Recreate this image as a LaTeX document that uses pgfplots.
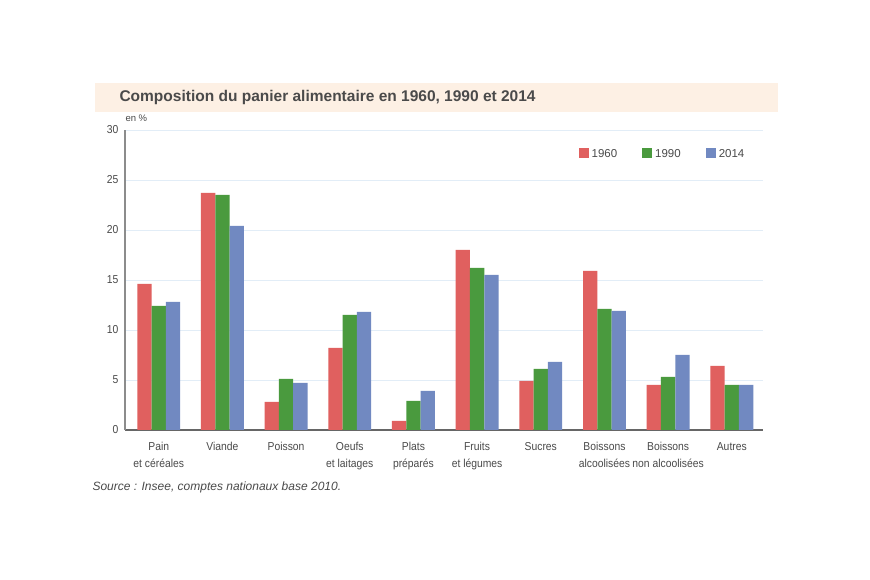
\documentclass[border=0pt]{standalone}
\usepackage{fontspec}
\setmainfont{Liberation Sans}
\newfontfamily\narrowfont[FakeStretch=0.9]{Liberation Sans}
\usepackage{pgfplots}
\pgfplotsset{compat=1.18}
\definecolor{c60}{HTML}{E0605F}
\definecolor{c90}{HTML}{4A9A3E}
\definecolor{c14}{HTML}{7189C1}
\definecolor{gridc}{HTML}{E2EDF7}
\definecolor{band}{HTML}{FDF0E4}
\definecolor{txt}{HTML}{4A4A4A}
\begin{document}
\begin{tikzpicture}[x=1pt,y=1pt]
\path[fill=white] (0,0) rectangle (870,580);
% bandeau du titre
\fill[band] (95,468) rectangle (778,497);
\node[anchor=west, text=txt, font=\fontsize{15.5}{18}\selectfont\bfseries] at (116,482) {Composition du panier alimentaire en 1960, 1990 et 2014};
\node[anchor=west, text=txt, font=\fontsize{9.5}{11}\selectfont] at (122,462) {en \%};
\node[anchor=west, text=txt, font=\fontsize{12}{14}\selectfont\itshape] at (89,93) {Source : Insee, comptes nationaux base 2010.};
\begin{axis}[
  at={(125pt,150pt)}, anchor=south west,
  scale only axis, width=638pt, height=300pt,
  ybar=0pt, bar width=14.3pt,
  xmin=-0.53, xmax=9.49,
  ymin=0, ymax=30,
  xtick=data,
  xticklabels={{Pain\\et céréales},Viande,Poisson,{Oeufs\\et laitages},{Plats\\préparés},{Fruits\\et légumes},Sucres,{Boissons\\alcoolisées},{Boissons\\non alcoolisées},Autres},
  ytick={0,5,...,30},
  major tick length=0pt,
  axis x line*=bottom, axis y line*=left,
  x axis line style={draw=black!60, line width=1.3pt, -},
  y axis line style={draw=black!45, line width=2pt, -},
  ymajorgrids, major grid style={gridc, line width=0.8pt},
  tick label style={text=txt, font=\narrowfont\fontsize{11.5}{17}\selectfont},
  /pgf/number format/assume math mode=true,
  xticklabel style={align=center, yshift=-9pt},
  yticklabel style={xshift=-3pt},
  legend columns=3,
  legend style={at={(0.706,0.92)}, anchor=west, draw=none, fill=none,
    font=\fontsize{11.5}{13}\selectfont, text=txt,
    nodes={inner xsep=3pt},
    /tikz/every even column/.append style={column sep=22pt}},
  legend image code/.code={\fill[#1] (0pt,-4pt) rectangle (10pt,6pt);},
]
\addplot[fill=c60, draw=none] coordinates {(0,14.6) (1,23.7) (2,2.8) (3,8.2) (4,0.9) (5,18.0) (6,4.9) (7,15.9) (8,4.5) (9,6.4)};
\addplot[fill=c90, draw=none] coordinates {(0,12.4) (1,23.5) (2,5.1) (3,11.5) (4,2.9) (5,16.2) (6,6.1) (7,12.1) (8,5.3) (9,4.5)};
\addplot[fill=c14, draw=none] coordinates {(0,12.8) (1,20.4) (2,4.7) (3,11.8) (4,3.9) (5,15.5) (6,6.8) (7,11.9) (8,7.5) (9,4.5)};
\legend{1960,1990,2014}
\end{axis}
\end{tikzpicture}
\end{document}
